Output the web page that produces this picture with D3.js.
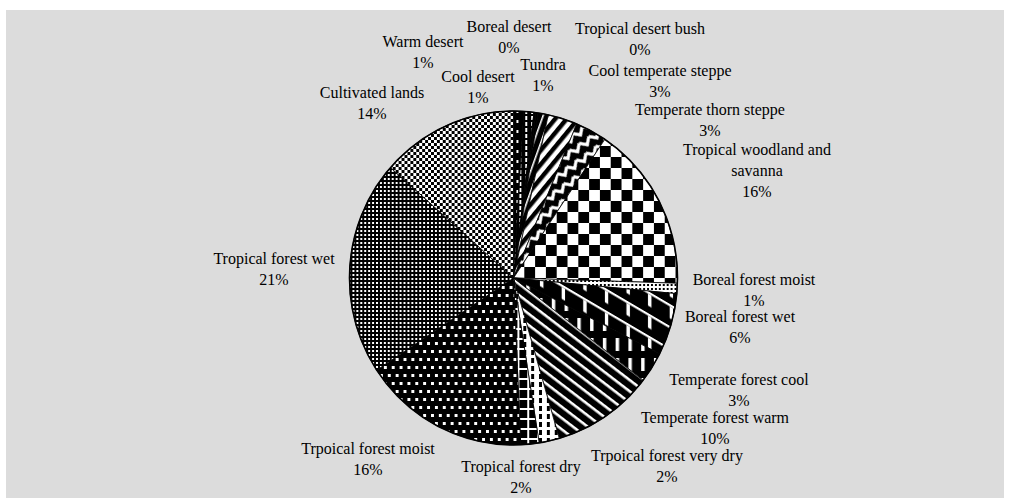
<!DOCTYPE html>
<html>
<head>
<meta charset="utf-8">
<script src="https://cdn.jsdelivr.net/npm/d3@7"></script>
<style>
  body { margin: 0; background: #fff; }
  text { font-family: "Liberation Serif", "Times New Roman", serif; font-size: 16px; fill: #000; }
</style>
</head>
<body>
<svg id="chart" width="1010" height="502"></svg>
<script>
// slices, clockwise from 12 o'clock
var categories = [
  "Warm desert", "Cool desert", "Boreal desert", "Tropical desert bush", "Tundra",
  "Cool temperate steppe", "Temperate thorn steppe", "Tropical woodland and savanna",
  "Boreal forest moist", "Boreal forest wet", "Temperate forest cool", "Temperate forest warm",
  "Trpoical forest very dry", "Tropical forest dry", "Trpoical forest moist",
  "Tropical forest wet", "Cultivated lands"
];
// share of total (percent)
var values = [1.0, 1.0, 0.2, 0.2, 1.0, 2.9, 3.1, 16.1, 1.0, 6.0, 3.0, 10.0, 2.0, 1.8, 16.4, 20.8, 13.5];

// pattern used for each slice
var fills = [
  "p-warm", "p-cool", "p-black", "p-black", "p-tundra",
  "p-coolsteppe", "p-thorn", "p-bigcheck",
  "p-dots", "p-steps", "p-vbars", "p-diag",
  "p-vdash", "p-brick", "p-sparse",
  "p-dense", "p-smallcheck"
];

// label anchor (centre of first line) relative to the pie centre
var labelAt = [
  [-90.5, -236], [-35.5, -201], [-4.5, -251], [126.5, -249], [29.5, -213],
  [146.5, -207], [196.5, -168], [243.5, -128],
  [240.5, 2], [226.5, 39], [225.5, 102], [201.5, 140],
  [153.5, 178], [7.5, 189], [-145.5, 171],
  [-239.5, -19], [-141.5, -185]
];

var svg = d3.select("#chart");
var cx = 513.5, cy = 278, rx = 164, ry = 167;

svg.append("rect")
    .attr("x", 6).attr("y", 10)
    .attr("width", 998).attr("height", 488)
    .attr("fill", "#dcdcdc");

var defs = svg.append("defs");

function pat(id, w, h, bg, draw, transform) {
  var p = defs.append("pattern")
      .attr("id", id)
      .attr("patternUnits", "userSpaceOnUse")
      .attr("width", w)
      .attr("height", h);
  if (transform) p.attr("patternTransform", transform);
  p.append("rect").attr("width", w).attr("height", h).attr("fill", bg);
  if (draw) draw(p);
}
function box(p, x, y, w, h, c) {
  p.append("rect").attr("x", x).attr("y", y).attr("width", w).attr("height", h).attr("fill", c);
}

pat("p-black", 4, 4, "#000");
pat("p-warm", 8, 10, "#000", function(p) { box(p, 3, 2, 2, 3, "#fff"); });
pat("p-cool", 6, 6, "#000", function(p) { box(p, 0, 0, 2, 4, "#fff"); });
pat("p-tundra", 7, 7, "#000", function(p) { box(p, 0, 0, 1.6, 7, "#fff"); }, "rotate(20)");
pat("p-coolsteppe", 9, 9, "#fff", function(p) { box(p, 0, 0, 9, 4.5, "#000"); }, "rotate(-50)");
pat("p-thorn", 12, 12, "#000", function(p) {
  p.append("path").attr("d", "M0,0 L6,6 L12,0 M0,12 L6,18 L12,12 M0,-12 L6,-6 L12,-12")
    .attr("fill", "none").attr("stroke", "#fff").attr("stroke-width", 3.2);
}, "rotate(-35)");
pat("p-bigcheck", 22, 22, "#fff", function(p) {
  box(p, 0, 0, 11, 11, "#000");
  box(p, 11, 11, 11, 11, "#000");
});
pat("p-dots", 4, 4, "#fff", function(p) { box(p, 0, 2, 2, 2, "#000"); });
pat("p-steps", 22, 22, "#000", function(p) {
  box(p, 0, 0, 22, 2.5, "#fff");
  box(p, 5, 2.5, 3.5, 12, "#fff");
}, "skewY(30)");
pat("p-vbars", 13, 20, "#000", function(p) { box(p, 0, 0, 3.5, 13, "#fff"); });
pat("p-diag", 9, 9, "#000", function(p) { box(p, 0, 0, 9, 2.6, "#fff"); }, "rotate(37)");
pat("p-vdash", 8, 8, "#fff", function(p) { box(p, 2, 0, 3, 5, "#000"); });
pat("p-brick", 10, 10, "#000", function(p) {
  box(p, 0, 0, 10, 2, "#fff");
  box(p, 4, 2, 2, 8, "#fff");
});
pat("p-sparse", 8, 16, "#000", function(p) {
  box(p, 0, 0, 3, 3, "#fff");
  box(p, 4, 8, 3, 3, "#fff");
});
pat("p-dense", 4, 4, "#000", function(p) { box(p, 0, 0, 2, 2, "#fff"); });
pat("p-smallcheck", 6, 6, "#fff", function(p) {
  box(p, 0, 0, 3, 3, "#000");
  box(p, 3, 3, 3, 3, "#000");
});

var data = categories.map(function(c, i) {
  return { name: c, value: values[i], fill: fills[i], at: labelAt[i] };
});

var pie = d3.pie()
    .sort(null)
    .value(function(d) { return d.value; })
    .startAngle(0)
    .endAngle(2 * Math.PI);

var arc = d3.arc().innerRadius(0).outerRadius(ry);

var g = svg.append("g")
    .attr("transform", "translate(" + cx + "," + cy + ")");

g.selectAll("path.slice")
  .data(pie(data))
  .enter().append("path")
    .attr("class", "slice")
    .attr("d", arc)
    .attr("transform", "scale(" + (rx / ry) + ",1)")
    .attr("fill", function(d) { return "url(#" + d.data.fill + ")"; })
    .attr("stroke", "#000")
    .attr("stroke-width", 0.8)
    .attr("stroke-linejoin", "round");

g.append("ellipse")
    .attr("rx", rx)
    .attr("ry", ry)
    .attr("fill", "none")
    .attr("stroke", "#000")
    .attr("stroke-width", 1.6);

// data labels: category name (wrapped when long) and rounded percent
var labels = svg.append("g");
data.forEach(function(d) {
  var t = labels.append("text")
      .attr("text-anchor", "middle")
      .attr("x", cx + d.at[0])
      .attr("y", cy + d.at[1] + 5);
  var probe = t.append("tspan").text(d.name);
  var lines = [d.name];
  if (probe.node().getComputedTextLength() > 180) {
    var words = d.name.split(" ");
    lines = [words.slice(0, -1).join(" "), words[words.length - 1]];
  }
  probe.remove();
  lines.push(Math.round(d.value) + "%");
  lines.forEach(function(l, i) {
    t.append("tspan")
      .attr("x", cx + d.at[0])
      .attr("dy", i === 0 ? 0 : 21)
      .text(l);
  });
});
</script>
</body>
</html>
